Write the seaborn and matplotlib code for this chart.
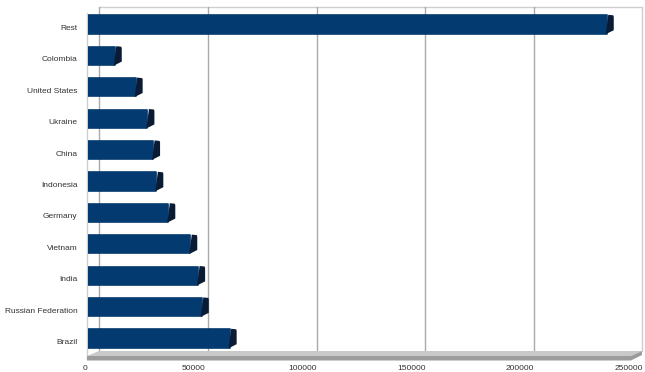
import matplotlib
matplotlib.use("Agg")
import matplotlib.pyplot as plt
from matplotlib.patches import Polygon
from matplotlib.transforms import ScaledTranslation, IdentityTransform
import seaborn as sns
import pandas as pd

# Production by country (top to bottom)
countries = ["Rest", "Colombia", "United States", "Ukraine", "China", "Indonesia",
             "Germany", "Vietnam", "India", "Russian Federation", "Brazil"]
values = [238400, 12300, 21900, 27300, 29900, 31400, 36900, 47000, 50600, 52300, 65100]
x_ticks = [0, 50000, 100000, 150000, 200000, 250000]
x_tick_labels = ["0", "50000", "100000", "150000", "200000", "250000"]

df = pd.DataFrame({"country": countries, "value": values})

sns.set_theme(style="white")
plt.rcParams["font.family"] = ["Liberation Sans", "DejaVu Sans"]

W, H = 645, 372
DPI = 100
fig = plt.figure(figsize=(W / DPI, H / DPI), dpi=DPI)
fig.patch.set_facecolor("white")


def fig_xy(px, py):
    return (px / W, 1 - py / H)


# front plane of the chart
ax = fig.add_axes([88 / W, (H - 354.2) / H, 544 / W, 345.4 / H])
ax.set_facecolor("none")

BAR = "#033a6f"
CAP = "#0a1c35"
sns.barplot(data=df, x="value", y="country", order=countries, orient="h",
            color=BAR, saturation=1, width=0.58, ax=ax, zorder=5,
            linewidth=1.2, edgecolor=BAR)
for p in ax.patches:
    p.set_joinstyle("round")

ax.set_xlim(0, 250000)
ax.set_ylim(len(countries) - 0.5, -0.5)
for s in ax.spines.values():
    s.set_visible(False)
ax.set_xlabel("")
ax.set_ylabel("")
ax.grid(False)

# back wall, floor and side wall
GRID = "#a9a9a9"
EDGE = "#cfcfcf"
wall_line = dict(transform=fig.transFigure, color=EDGE, lw=1.0, zorder=0)
fig.add_artist(plt.Line2D(*zip(fig_xy(99, 6.7), fig_xy(642, 6.7)), **wall_line))
fig.add_artist(plt.Line2D(*zip(fig_xy(642, 6.7), fig_xy(642, 351)), **wall_line))
fig.add_artist(plt.Line2D(*zip(fig_xy(86.5, 12.7), fig_xy(86.5, 359)), **wall_line))

floor_top = Polygon([fig_xy(99, 351), fig_xy(642, 351), fig_xy(631, 356), fig_xy(87, 356)],
                    closed=True, transform=fig.transFigure, facecolor="#c9c9c9",
                    edgecolor="none", zorder=1)
floor_front = Polygon([fig_xy(87, 356), fig_xy(631, 356), fig_xy(642, 351), fig_xy(642, 355),
                       fig_xy(631, 360.5), fig_xy(87, 360.5)],
                      closed=True, transform=fig.transFigure, facecolor="#9c9c9c",
                      edgecolor="none", zorder=1)
fig.add_artist(floor_top)
fig.add_artist(floor_front)

# gridlines on the back wall, shifted in depth
back = ax.get_xaxis_transform() + ScaledTranslation(11 / DPI, 0, fig.dpi_scale_trans)
top_frac = (354.2 - 6.7) / 345.4
bot_frac = (354.2 - 351) / 345.4
for t in x_ticks[:-1]:
    ax.plot([t, t], [bot_frac, top_frac], transform=back, color=GRID, lw=1.0,
            clip_on=False, zorder=0)

# dark end caps giving the bars depth
fig.canvas.draw()
for p in ax.patches:
    x1 = p.get_x() + p.get_width()
    y0 = p.get_y()
    y1 = y0 + p.get_height()
    (ax1, ay0), = ax.transData.transform([(x1, y0)])
    (_, ay1), = ax.transData.transform([(x1, y1)])
    lo, hi = min(ay0, ay1) - 0.6, max(ay0, ay1) + 0.6
    cap = Polygon([(ax1 - 1, lo), (ax1 + 1.5, hi), (ax1 + 6.5, hi - 0.5),
                   (ax1 + 7, hi - 2), (ax1 + 7, lo + 4)],
                  closed=True, transform=IdentityTransform(), facecolor=CAP,
                  edgecolor="none", zorder=6)
    fig.add_artist(cap)

ax.set_xticks(x_ticks)
ax.set_xticklabels(x_tick_labels)
ax.tick_params(axis="x", length=0, pad=7.5, labelsize=6, labelcolor="#333333")
ax.tick_params(axis="y", length=0, pad=7.5, labelsize=6, labelcolor="#333333")
shift = ScaledTranslation(0, -3 / DPI, fig.dpi_scale_trans)
for lab in ax.get_yticklabels():
    lab.set_transform(lab.get_transform() + shift)
xshift = ScaledTranslation(-3 / DPI, 0, fig.dpi_scale_trans)
for lab in ax.get_xticklabels():
    lab.set_transform(lab.get_transform() + xshift)

fig.savefig("out.png", dpi=DPI, facecolor="white")
